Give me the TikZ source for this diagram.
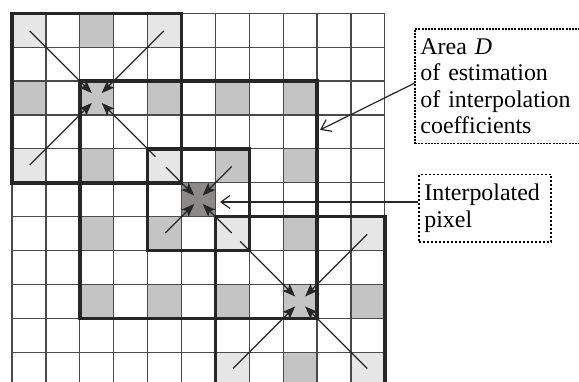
\documentclass[tikz,border=0pt]{standalone}
\usepackage{fontspec}
\setmainfont{Liberation Serif}
\usetikzlibrary{arrows.meta, positioning}
\definecolor{cellLight}{HTML}{E6E6E6}
\definecolor{cellMid}{HTML}{C4C4C4}
\definecolor{cellDark}{HTML}{8C8A88}
\definecolor{gridLine}{HTML}{4A4A4A}
\definecolor{boxLine}{HTML}{262626}

\begin{document}
\begin{tikzpicture}[
    x=33.9bp, y=-33.9bp,
    grid line/.style = {draw=gridLine, line width=1.2bp},
    area box/.style = {draw=boxLine, line width=3.5bp},
    ray/.style = {draw=boxLine, line width=1.2bp, shorten >=7bp,
      -{Stealth[length=13bp, width=10bp, inset=3bp]}},
    pointer/.style = {draw=boxLine, line width=1.2bp,
      -{Straight Barb[length=9bp, width=13bp]}},
    note/.style = {draw=black, line width=1.3bp, dash pattern=on 2bp off 1.2bp,
      align=left, inner xsep=5.5bp, inner ysep=10bp,
      font=\fontsize{24}{26.3}\selectfont}
  ]
  \useasboundingbox (-0.354,-0.392) rectangle (16.726,10.876);

  \foreach \c/\r in {0/0, 4/0, 0/4, 4/4, 6/6, 10/6, 6/10, 10/10}
    \fill[cellLight] (\c,\r) rectangle ++(1,1);
  \foreach \c/\r in {2/0, 0/2, 2/2, 4/2, 6/2, 8/2, 2/4, 6/4, 8/4, 2/6, 4/6, 8/6,
      2/8, 4/8, 6/8, 8/8, 10/8, 8/10}
    \fill[cellMid] (\c,\r) rectangle ++(1,1);
  \fill[cellDark] (5,5) rectangle ++(1,1);

  \foreach \k in {0,...,11} {
    \draw[grid line] (\k,0) -- (\k,11);
    \draw[grid line] (0,\k) -- (11,\k);
  }

  \foreach \c in {0,...,10}
    \foreach \r in {0,...,10}
      \coordinate (c\c-\r) at (\c+.5,\r+.5);

  \draw[area box] (0,0) rectangle (5,5);
  \draw[area box] (2,2) rectangle (9,9);
  \draw[area box] (4,4) rectangle (7,7);
  \draw[area box] (6,6) rectangle (11,11);

  \foreach \s/\g in {c0-0/1, c4-0/1, c0-4/1, c4-4/13}
    \draw[ray, shorten <=\g bp] (\s) -- (c2-2);
  \foreach \s/\g in {c4-4/2, c6-4/1, c4-6/1, c6-6/1}
    \draw[ray, shorten <=\g bp, shorten >=6bp] (\s) -- (c5-5);
  \foreach \s/\g in {c6-6/11, c10-6/1, c6-10/1, c10-10/1}
    \draw[ray, shorten <=\g bp] (\s) -- (c8-8);

  \node[note, text width=160bp, anchor=north west] (areaD) at (11.867,0.442)
    {Area \textit{D}\\of estimation\\of interpolation\\coefficients};
  \node[note, text width=121bp, line width=1.8bp, dash pattern=on 2bp off 2bp,
    below=29.3bp of areaD.south west, anchor=north west, xshift=3.7bp] (ipx)
    {Interpolated\\pixel};

  \coordinate (dEdge) at (9.086,3.44);
  \draw[pointer] ([yshift=3bp]areaD.west) -- (dEdge);
  \coordinate (pix) at (6.136,5.566);
  \draw[pointer] (ipx.west |- pix) -- (pix);
\end{tikzpicture}
\end{document}
